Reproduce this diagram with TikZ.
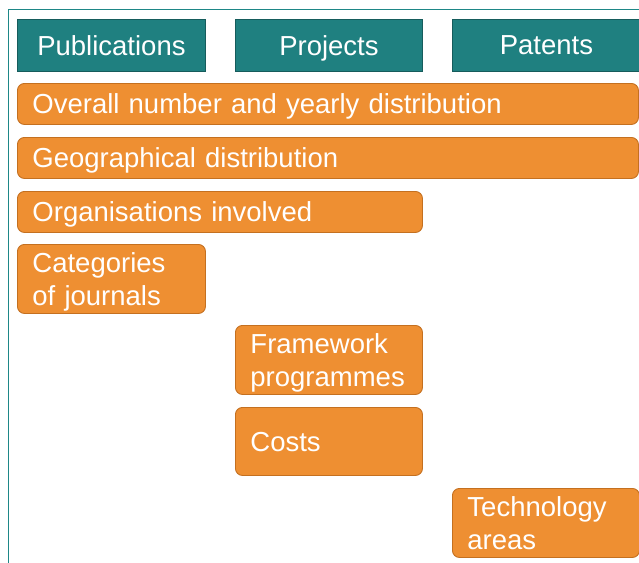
\documentclass[tikz,border=0pt]{standalone}
\usepackage{fontspec}
\setmainfont{Liberation Sans}
\definecolor{teal1}{RGB}{31,128,128}
\definecolor{teal2}{RGB}{22,92,92}
\definecolor{frameteal}{RGB}{30,135,135}
\definecolor{orange1}{RGB}{238,143,50}
\definecolor{orange2}{RGB}{196,112,32}
\begin{document}
\begin{tikzpicture}[x=1pt,y=-1pt,
  hdr/.style={draw=teal2, line width=0.9pt, fill=teal1, text=white, anchor=north west,
    inner sep=0pt, text depth=0pt, font=\fontsize{27.5}{33}\selectfont, align=center},
  obox/.style={draw=orange2, line width=0.9pt, fill=orange1, text=white, anchor=north west,
    rounded corners=7pt, inner xsep=15pt, inner ysep=0pt, text depth=0pt,
    font=\fontsize{27.5}{33}\selectfont, align=left},
  twoline/.style={text depth=33pt}]
\useasboundingbox (0,0) rectangle (639,562);
\draw[frameteal, line width=1.4pt] (8.5,570) -- (8.5,9.5) -- (650,9.5);
% headers
\node[hdr, minimum width=188pt, minimum height=52pt] (pub) at (17,19) {Publications};
\node[hdr, minimum width=187pt, minimum height=52pt] (proj) at (235,19) {Projects};
\node[hdr, minimum width=188pt, minimum height=52pt] (pat) at (452,19) {Patents};
% rows
\node[obox, text width=591pt, minimum height=41pt] (r1) at (17,83) {Overall number and yearly distribution};
\node[obox, text width=591pt, minimum height=41pt] (r2) at (17,137) {Geographical distribution};
\node[obox, text width=375pt, minimum height=41pt] (r3) at (17,191) {Organisations involved};
\node[obox, twoline, text width=158pt, minimum height=69pt] (cat) at (17,244) {Categories\\of journals};
\node[obox, twoline, text width=157pt, minimum height=69pt] (fw) at (235,325) {Framework\\programmes};
\node[obox, text width=157pt, minimum height=68pt] (cost) at (235,407) {Costs};
\node[obox, twoline, text width=157pt, minimum height=69pt] (tech) at (452,488) {Technology\\areas};
\end{tikzpicture}
\end{document}
